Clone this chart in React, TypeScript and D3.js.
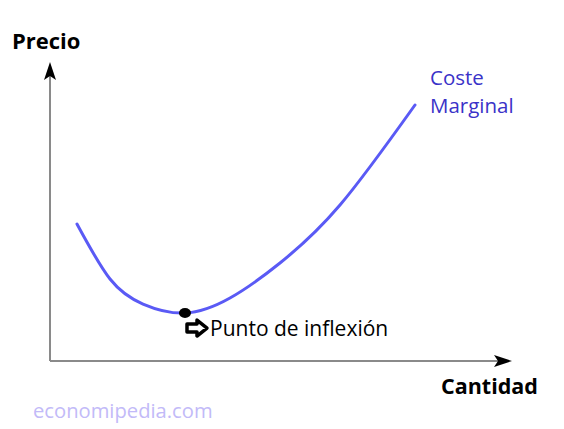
import React from "react";
import * as d3 from "d3";

const quantity = [5.84, 12.99, 20.13, 29.22, 38.96, 49.78, 62.77, 79.0];
const marginalCost = [45.82, 27.42, 19.06, 16.05, 21.07, 32.78, 52.17, 85.62];
const inflection = { q: 29.22, p: 16.05 };
const labels = {
  y: "Precio",
  x: "Cantidad",
  series: ["Coste", "Marginal"],
  point: "Punto de inflexión",
  source: "economipedia.com",
};

export default function App() {
  const W = 564, H = 429;
  const x = d3.scaleLinear().domain([0, 100]).range([50, 512]);
  const y = d3.scaleLinear().domain([0, 100]).range([361, 62]);
  const pts = quantity.map((q, i) => [q, marginalCost[i]] as [number, number]);
  const line = d3.line<[number, number]>().x(d => x(d[0])).y(d => y(d[1])).curve(d3.curveNatural);
  const font = "'Open Sans', 'Noto Sans', sans-serif";
  const ix = x(inflection.q), iy = y(inflection.p);
  const ax = ix + 2, ay = iy + 15;
  const arrow = `M${ax},${ay - 4} L${ax + 10},${ay - 4} L${ax + 10},${ay - 8} L${ax + 20},${ay} L${ax + 10},${ay + 8} L${ax + 10},${ay + 4} L${ax},${ay + 4} Z`;
  return (
    <svg width={W} height={H} style={{ position: "absolute", left: 0, top: 0, background: "#fff" }}>
      <line x1={x(0)} y1={y(0)} x2={x(0)} y2={y(100) + 10} stroke="#8a8a8a" strokeWidth={2} />
      <line x1={x(0)} y1={y(0)} x2={x(100) - 10} y2={y(0)} stroke="#8a8a8a" strokeWidth={2} />
      <path d={`M${x(0)},${y(100)} L${x(0) - 6},${y(100) + 18} L${x(0)},${y(100) + 14} L${x(0) + 6},${y(100) + 18} Z`} fill="#000" />
      <path d={`M${x(100)},${y(0)} L${x(100) - 18},${y(0) - 6} L${x(100) - 14},${y(0)} L${x(100) - 18},${y(0) + 6} Z`} fill="#000" />
      <path d={line(pts) || ""} fill="none" stroke="#5a5af5" strokeWidth={3} strokeLinecap="round" />
      <ellipse cx={ix} cy={iy} rx={6} ry={5} fill="#000" />
      <path d={arrow} fill="#fff" stroke="#000" strokeWidth={3.5} strokeLinejoin="round" />
      <text x={210} y={336} fontFamily={font} fontSize={21} fill="#000">{labels.point}</text>
      <text x={12} y={49} fontFamily={font} fontSize={22} fontWeight="bold" fill="#000">{labels.y}</text>
      <text x={441} y={394} fontFamily={font} fontSize={21.5} fontWeight="bold" fill="#000">{labels.x}</text>
      <text x={430} y={85} fontFamily={font} fontSize={20.5} fill="#3a32c8">{labels.series[0]}</text>
      <text x={430} y={113} fontFamily={font} fontSize={20.5} fill="#3a32c8">{labels.series[1]}</text>
      <text x={33} y={418} fontFamily={font} fontSize={20.2} fill="#c2baf8">{labels.source}</text>
    </svg>
  );
}
